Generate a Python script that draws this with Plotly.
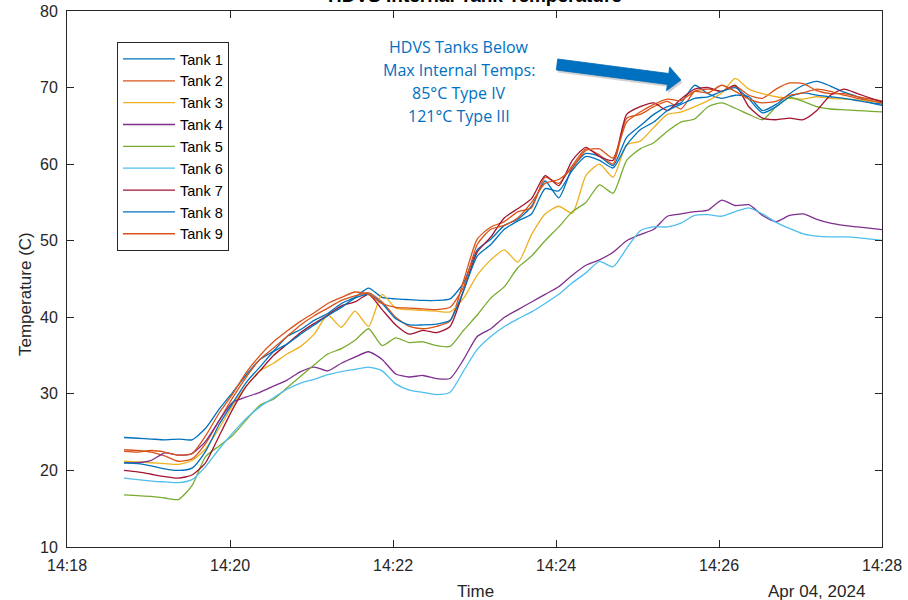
import pandas as pd
import plotly.graph_objects as go

# Sample times: one reading every 10 s
TIME_START = "2024-04-04 14:18:42"
N_POINTS = 57

TANK_1 = [24.3, 24.2, 24.1, 24.0, 24.1, 24.0, 25.5, 28.0, 30.2, 32.5,
          34.5, 35.6, 37.5, 38.4, 39.6, 40.5, 41.8, 42.6, 43.8, 42.6,
          42.4, 42.3, 42.2, 42.2, 42.4, 44.5, 48.8, 50.2, 52.0, 52.8,
          54.5, 57.8, 55.6, 59.5, 61.4, 61.0, 59.8, 63.5, 65.0, 66.5,
          67.5, 68.0, 70.3, 69.2, 68.6, 69.0, 68.8, 67.0, 67.8, 69.2,
          70.3, 70.8, 70.2, 69.4, 68.8, 68.0, 67.6]
TANK_2 = [22.7, 22.6, 22.4, 21.9, 21.2, 21.5, 23.5, 26.5, 29.5, 32.2,
          34.5, 36.0, 37.5, 39.0, 40.2, 41.2, 42.2, 42.8, 43.2, 42.0,
          40.0, 38.8, 38.5, 38.8, 39.5, 44.8, 50.2, 51.8, 52.5, 53.8,
          54.3, 58.3, 57.5, 59.8, 62.0, 61.2, 60.0, 66.0, 66.5, 67.5,
          68.2, 67.2, 69.5, 69.8, 69.5, 70.2, 69.0, 68.6, 69.8, 70.6,
          70.5, 69.6, 69.2, 69.2, 68.8, 68.5, 68.2]
TANK_3 = [21.2, 21.1, 21.0, 20.9, 20.8, 21.3, 22.8, 25.5, 28.5, 31.0,
          33.0, 34.0, 35.2, 36.2, 37.8, 40.3, 38.7, 40.8, 38.8, 43.0,
          41.2, 41.0, 40.9, 40.8, 40.7, 42.5, 45.5, 47.5, 48.8, 47.2,
          50.8, 53.5, 54.5, 53.6, 58.5, 60.0, 58.3, 62.5, 63.0, 64.8,
          66.5, 66.8, 67.5, 68.3, 69.3, 71.2, 69.8, 69.2, 68.8, 68.6,
          68.5, 68.8, 68.6, 68.5, 68.4, 68.2, 68.0]
TANK_4 = [21.0, 21.0, 21.3, 22.3, 22.0, 22.2, 23.8, 26.5, 28.9, 29.6,
          30.2, 31.0, 31.8, 32.9, 33.5, 33.0, 34.0, 34.8, 35.5, 34.5,
          32.6, 32.2, 32.4, 32.0, 32.0, 34.5, 37.5, 38.5, 40.0, 41.0,
          42.0, 43.0, 44.0, 45.5, 46.8, 47.5, 48.5, 50.0, 50.8, 51.5,
          53.2, 53.5, 53.8, 54.0, 55.3, 54.6, 54.7, 53.3, 52.5, 53.3,
          53.5, 52.8, 52.3, 52.0, 51.8, 51.6, 51.4]
TANK_5 = [16.8, 16.7, 16.6, 16.4, 16.2, 18.0, 21.8, 23.2, 24.6, 26.6,
          28.5, 29.3, 30.8, 32.3, 33.8, 35.2, 35.9, 37.0, 38.5, 36.3,
          37.3, 36.7, 36.8, 36.3, 36.2, 38.3, 40.3, 42.5, 44.0, 46.5,
          48.0, 50.0, 51.8, 53.8, 55.0, 57.3, 56.2, 60.5, 62.0, 62.8,
          64.3, 65.5, 65.9, 67.5, 68.0, 67.3, 66.5, 65.8, 67.5, 68.7,
          68.2, 67.5, 67.2, 67.1, 67.0, 66.9, 66.8]
TANK_6 = [19.0, 18.8, 18.6, 18.5, 18.4, 18.8, 20.5, 22.8, 24.9, 26.8,
          28.3, 29.5, 30.6, 31.4, 31.9, 32.5, 32.9, 33.2, 33.5, 33.0,
          31.3, 30.5, 30.2, 29.9, 30.2, 33.0, 35.8, 37.5, 38.8, 39.8,
          40.7, 41.8, 43.0, 44.5, 45.8, 47.3, 46.6, 49.0, 51.3, 51.8,
          51.8, 52.3, 53.3, 53.4, 53.2, 53.8, 54.3, 53.5, 52.4, 51.6,
          50.9, 50.6, 50.5, 50.5, 50.4, 50.2, 50.0]
TANK_7 = [20.0, 19.8, 19.5, 19.2, 19.0, 19.4, 21.0, 24.5, 28.0, 31.0,
          33.0, 35.0, 36.5, 38.0, 39.2, 40.3, 41.5, 42.0, 43.0, 41.0,
          39.0, 37.8, 38.3, 38.0, 38.8, 43.5, 48.5, 50.5, 53.0, 54.2,
          55.5, 58.5, 57.2, 60.5, 62.2, 61.0, 60.5, 66.5, 67.5, 68.0,
          67.0, 68.5, 69.8, 70.0, 69.5, 70.3, 67.5, 66.0, 65.8, 66.0,
          65.8, 67.0, 69.0, 69.8, 69.2, 68.6, 68.0]
TANK_8 = [21.0, 20.9, 20.6, 20.2, 20.0, 20.3, 22.5, 26.0, 28.8, 31.5,
          33.5, 35.5, 36.5, 37.8, 39.0, 40.2, 41.3, 42.5, 43.0, 41.8,
          39.8, 39.0, 39.0, 39.1, 39.6, 43.5, 48.0, 49.5, 51.5, 52.6,
          53.5, 56.8, 56.5, 59.2, 61.0, 60.5, 59.5, 62.5, 64.5, 65.5,
          67.0, 67.8, 68.6, 68.8, 69.5, 70.0, 68.5, 66.7, 67.5, 68.8,
          69.3, 69.0, 68.8, 68.6, 68.3, 68.0, 67.8]
TANK_9 = [22.5, 22.4, 22.6, 22.4, 22.0, 22.2, 24.5, 27.5, 30.0, 32.8,
          35.0, 36.8, 38.2, 39.5, 40.6, 41.8, 42.6, 43.3, 43.0, 41.8,
          41.3, 41.2, 41.1, 41.0, 41.3, 44.0, 49.5, 51.5, 52.0, 53.0,
          55.0, 57.5, 58.0, 59.5, 61.8, 62.0, 60.8, 65.5, 66.8, 67.8,
          68.5, 68.3, 69.5, 69.3, 70.3, 69.5, 68.5, 68.0, 68.2, 69.0,
          69.3, 69.8, 69.5, 69.0, 68.6, 68.3, 67.9]

TANK_NAMES = ["Tank 1", "Tank 2", "Tank 3", "Tank 4", "Tank 5",
              "Tank 6", "Tank 7", "Tank 8", "Tank 9"]
TANK_SERIES = [TANK_1, TANK_2, TANK_3, TANK_4, TANK_5,
               TANK_6, TANK_7, TANK_8, TANK_9]
TANK_COLORS = ["#0072BD", "#D95319", "#EDB120", "#7E2F8E", "#77AC30",
               "#4DBEEE", "#A2142F", "#0072BD", "#D95319"]

Y_TICKS = [10, 20, 30, 40, 50, 60, 70, 80]
X_RANGE = ["2024-04-04 14:18:00", "2024-04-04 14:28:00"]

NOTE_LINES = ["HDVS Tanks Below", "Max Internal Temps:",
              "85°C Type IV", "121°C Type III"]

times = pd.date_range(TIME_START, periods=N_POINTS, freq="10s")

fig = go.Figure()
for name, vals, col in zip(TANK_NAMES, TANK_SERIES, TANK_COLORS):
    fig.add_trace(go.Scatter(
        x=times[:len(vals)], y=vals, name=name, mode="lines",
        line=dict(color=col, width=1.3, shape="spline", smoothing=0.6),
    ))

# plot-area geometry (pixels)
W, H = 908, 600
L, R, T, B = 67, 26, 11, 53
PW, PH = W - L - R, H - T - B


def px(x, y):
    """pixel position on the page -> paper coordinates"""
    return (x - L) / PW, 1 - (y - T) / PH


AXIS_COLOR = "#262626"
SANS = "Liberation Sans, Arial, sans-serif"
TICK_FONT = dict(family=SANS, size=16, color=AXIS_COLOR)

lgx, lgy = px(117, 42)
fig.update_layout(
    width=W, height=H,
    margin=dict(l=L, r=R, t=T, b=B, autoexpand=False),
    paper_bgcolor="white", plot_bgcolor="white",
    showlegend=True,
    legend=dict(
        x=lgx, y=lgy, xanchor="left", yanchor="top",
        bordercolor=AXIS_COLOR, borderwidth=1, bgcolor="white",
        font=dict(family=SANS, size=14.5, color="#000"),
        itemwidth=52, tracegroupgap=0,
    ),
    xaxis=dict(
        type="date", range=X_RANGE, tick0=X_RANGE[0], dtick=120000,
        tickformat="%H:%M", ticks="inside", ticklen=7, tickcolor=AXIS_COLOR,
        showline=True, linecolor=AXIS_COLOR, linewidth=1, mirror="ticks",
        showgrid=False, zeroline=False, tickfont=TICK_FONT,
        automargin=False, ticklabelstandoff=4,
    ),
    yaxis=dict(
        range=[10, 80], tickvals=Y_TICKS, ticks="inside", ticklen=7,
        tickcolor=AXIS_COLOR, showline=True, linecolor=AXIS_COLOR, linewidth=1,
        mirror="ticks", showgrid=False, zeroline=False, tickfont=TICK_FONT,
        automargin=False, ticklabelstandoff=5,
    ),
)

ann = []
# title (sits at the very top edge)
tx, ty = px(475, -4)
ann.append(dict(text="<b>HDVS Internal Tank Temperature</b>", x=tx, y=ty,
                xref="paper", yref="paper", showarrow=False,
                xanchor="center", yanchor="middle",
                font=dict(family=SANS, size=19, color="#000")))
# axis labels
lx, ly = px(25, 294)
ann.append(dict(text="Temperature (C)", x=lx, y=ly, xref="paper", yref="paper",
                showarrow=False, textangle=-90, xanchor="center", yanchor="middle",
                font=dict(family=SANS, size=17, color=AXIS_COLOR)))
tx2, ty2 = px(475, 591)
ann.append(dict(text="Time", x=tx2, y=ty2, xref="paper", yref="paper",
                showarrow=False, xanchor="center", yanchor="middle",
                font=dict(family=SANS, size=17, color=AXIS_COLOR)))
dx, dy = px(867, 591)
ann.append(dict(text="Apr 04, 2024", x=dx, y=dy, xref="paper", yref="paper",
                showarrow=False, xanchor="right", yanchor="middle",
                font=dict(family=SANS, size=17, color=AXIS_COLOR)))
# blue note
for k, line in enumerate(NOTE_LINES):
    nx, ny = px(459, 47 + 23 * k)
    ann.append(dict(text=line, x=nx, y=ny, xref="paper", yref="paper",
                    showarrow=False, xanchor="center", yanchor="middle",
                    font=dict(family="Open Sans, sans-serif", size=16, color="#0070C0")))
fig.update_layout(annotations=ann)

# block arrow pointing at the peak temperatures
ARROW_PTS = [(556.3, 70.0), (667.4, 84.4), (666.5, 90.8), (681.0, 80.0),
             (669.7, 67.0), (668.8, 73.5), (557.7, 59.0)]


def arrow_path(pts, dx=0.0, dy=0.0):
    p = [px(x + dx, y + dy) for x, y in pts]
    return "M " + " L ".join(f"{a:.5f},{b:.5f}" for a, b in p) + " Z"


fig.add_shape(type="path", path=arrow_path(ARROW_PTS, 1.5, 2.5), xref="paper", yref="paper",
              fillcolor="rgba(0,0,0,0.18)", line=dict(width=0), layer="above")
fig.add_shape(type="path", path=arrow_path(ARROW_PTS), xref="paper", yref="paper",
              fillcolor="#0070C0", line=dict(color="#0068B5", width=0.8), layer="above")

fig.write_html("out.html")
